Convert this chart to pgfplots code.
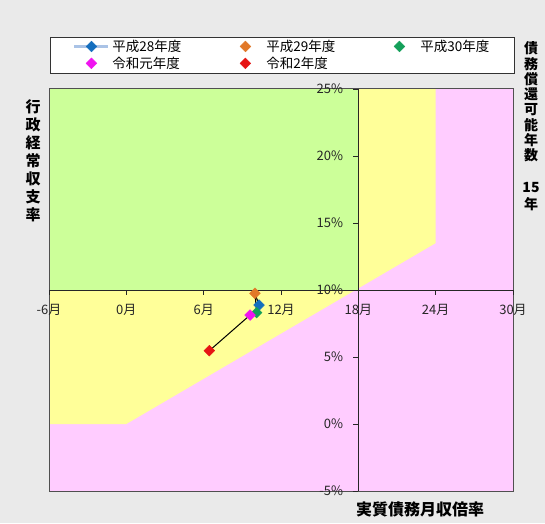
\documentclass[border=0pt]{standalone}
\usepackage{pgfplots}
\pgfplotsset{compat=1.18}
\usepackage{fontspec}
\setmainfont{Noto Sans CJK JP}
\definecolor{bgc}{RGB}{234,234,234}
\definecolor{greenr}{RGB}{204,255,153}
\definecolor{yellowr}{RGB}{255,255,153}
\definecolor{pinkr}{RGB}{255,204,255}
\definecolor{cHa}{RGB}{20,110,190}
\definecolor{cHaline}{RGB}{170,195,230}
\definecolor{cHb}{RGB}{225,120,40}
\definecolor{cHc}{RGB}{20,160,90}
\definecolor{cRa}{RGB}{240,20,240}
\definecolor{cRb}{RGB}{230,20,20}
\definecolor{framec}{RGB}{80,80,80}
\pgfplotsset{
  mk/.style={only marks, mark=square*, mark size=3.8pt, mark options={rotate=45, fill=#1, draw=#1, solid}},
  mkimg/.style={legend image code/.code={\path[draw=none, fill=none] (0pt,-5pt) rectangle (36pt,5pt); \draw[##1] plot coordinates {(17pt,0pt)};}},
  lnimg/.style={legend image code/.code={\path[draw=none, fill=none] (0pt,-5pt) rectangle (36pt,5pt); \draw[cHaline, line width=2.5pt] (0pt,0pt) -- (34pt,0pt); \draw[##1] plot coordinates {(17pt,0pt)};}},
}
\begin{document}
\begin{tikzpicture}
\fill[bgc] (0pt,0pt) rectangle (545pt,523pt);
\begin{axis}[
  at={(49pt,32pt)}, anchor=south west,
  width=464pt, height=402pt, scale only axis,
  xmin=-6, xmax=30, ymin=-5, ymax=25,
  axis line style={draw=none},
  xtick=\empty, ytick=\empty,
  axis background/.style={fill=pinkr},
  clip=false,
  legend columns=3,
  legend style={at={(rel axis cs:0,1)}, anchor=south west, xshift=1pt, yshift=16pt,
    draw=black!80, fill=white, font=\fontsize{13.5}{15}\selectfont,
    inner xsep=23pt, inner ysep=1pt,
    /tikz/every even column/.append style={column sep=45pt},
    cells={anchor=west}},
]
\addplot[fill=yellowr, draw=none, forget plot] coordinates {(-6,0) (0,0) (24,13.5) (24,25) (-6,25)} -- cycle;
\addplot[fill=greenr, draw=none, forget plot] coordinates {(-6,10) (18,10) (18,25) (-6,25)} -- cycle;
\draw[framec, line width=1pt] (axis cs:-6,-5) rectangle (axis cs:30,25);
\draw[black!85, line width=0.8pt] (axis cs:-6,10) -- (axis cs:30,10);
\draw[black!85, line width=0.8pt] (axis cs:18,-5) -- (axis cs:18,25);
\pgfplotsinvokeforeach{-6,0,6,12,18,24,30}{
  \draw[black!85, line width=0.8pt] (axis cs:#1,10) -- ++(0pt,-5pt);
  \node[anchor=center, inner sep=0pt, font=\fontsize{13}{14}\selectfont, text=black!85] at ([yshift=-20pt]axis cs:#1,10) {#1月};
}
\pgfplotsinvokeforeach{-5,0,5,10,15,20,25}{
  \draw[black!85, line width=0.8pt] (axis cs:18,#1) -- ++(-5pt,0pt);
  \node[anchor=east, inner sep=0pt, font=\fontsize{13}{14}\selectfont, text=black!85] at ([xshift=-15pt]axis cs:18,#1) {#1\%};
}
\addplot[mk=cHa, forget plot] coordinates {(10.3,8.88)};
\addplot[mk=cHb, forget plot] coordinates {(9.98,9.75)};
\addplot[mk=cHc, forget plot] coordinates {(10.11,8.31)};
\addplot[mk=cRa, forget plot] coordinates {(9.6,8.13)};
\addplot[mk=cRb, forget plot] coordinates {(6.44,5.47)};
\addplot[black, line width=1pt, no marks, forget plot] coordinates {(10.3,8.88) (9.98,9.75) (10.11,8.31) (9.6,8.13) (6.44,5.47)};
\addlegendimage{mk=cHa, lnimg}
\addlegendentry{平成28年度}
\addlegendimage{mk=cHb, mkimg}
\addlegendentry{平成29年度}
\addlegendimage{mk=cHc, mkimg}
\addlegendentry{平成30年度}
\addlegendimage{mk=cRa, mkimg}
\addlegendentry{令和元年度}
\addlegendimage{mk=cRb, mkimg}
\addlegendentry{令和2年度}
\end{axis}
\node[font=\bfseries\fontsize{15}{18}\selectfont, align=center, inner sep=0pt] at (33pt,362pt) {行\\政\\経\\常\\収\\支\\率};
\node[font=\bfseries\fontsize{14}{15.3}\selectfont, align=center, inner sep=0pt] at (531pt,421pt) {債\\務\\償\\還\\可\\能\\年\\数};
\node[font=\bfseries\fontsize{14}{15}\selectfont, inner sep=0pt] at (531pt,335pt) {15};
\node[font=\bfseries\fontsize{14}{15}\selectfont, inner sep=0pt] at (531pt,319pt) {年};
\node[font=\bfseries\fontsize{16}{18}\selectfont, inner sep=0pt] at (420pt,14pt) {実質債務月収倍率};
\end{tikzpicture}
\end{document}
